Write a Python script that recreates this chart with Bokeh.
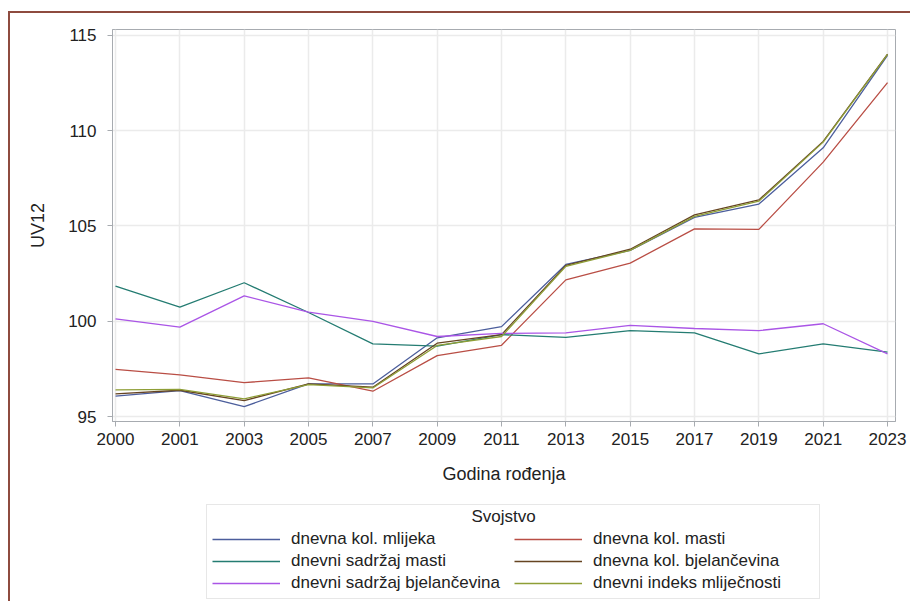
from bokeh.plotting import figure
from bokeh.layouts import column
from bokeh.models import Legend, LegendItem, Label, FixedTicker, Range1d
from bokeh.embed import file_html
from bokeh.resources import INLINE

years = ["2000", "2001", "2003", "2005", "2007", "2009", "2011",
         "2013", "2015", "2017", "2019", "2021", "2023"]

kol_mlijeka = [96.07, 96.36, 95.52, 96.71, 96.71, 99.13, 99.72,
               102.98, 103.72, 105.45, 106.15, 109.10, 113.95]
kol_masti = [97.47, 97.19, 96.78, 97.03, 96.33, 98.20, 98.74,
             102.17, 103.05, 104.85, 104.82, 108.35, 112.52]
sadrzaj_masti = [101.84, 100.74, 102.02, 100.46, 98.81, 98.70, 99.30,
                 99.15, 99.51, 99.39, 98.29, 98.81, 98.38]
kol_bjelancevina = [96.19, 96.38, 95.84, 96.71, 96.54, 98.85, 99.30,
                    102.93, 103.78, 105.58, 106.37, 109.44, 114.02]
sadrzaj_bjelancevina = [100.13, 99.69, 101.33, 100.48, 99.99, 99.20, 99.36,
                        99.39, 99.78, 99.62, 99.51, 99.87, 98.29]
indeks_mlijecnosti = [96.40, 96.43, 95.93, 96.68, 96.50, 98.73, 99.20,
                      102.88, 103.72, 105.50, 106.30, 109.40, 114.00]

series_names = ["dnevna kol. mlijeka", "dnevna kol. masti", "dnevni sadržaj masti",
                "dnevna kol. bjelančevina", "dnevni sadržaj bjelančevina",
                "dnevni indeks mliječnosti"]
series_values = [kol_mlijeka, kol_masti, sadrzaj_masti, kol_bjelancevina,
                 sadrzaj_bjelancevina, indeks_mlijecnosti]
colors = ["#4C5E9C", "#B94E45", "#247C72", "#664422", "#AA55E6", "#8E9E36"]

legend_title = "Svojstvo"
x_title = "Godina rođenja"
y_title = "UV12"
y_ticks = [95, 100, 105, 110, 115]

FONT = "Liberation Sans"
TXT = "#222222"
x_idx = list(range(len(years)))

# ---------------- main chart ----------------
p = figure(width=900, height=476, output_backend="svg", toolbar_location=None,
           x_range=Range1d(-0.047, len(years) - 1 + 0.124),
           y_range=Range1d(94.74, 115.31),
           min_border_left=102, min_border_top=16, min_border_right=15,
           min_border_bottom=68)

p.background_fill_color = "white"
p.border_fill_color = "white"
p.outline_line_color = "#A7ABB0"
p.outline_line_width = 1

for ax in (p.xaxis[0], p.yaxis[0]):
    ax.axis_line_color = "#A7ABB0"
    ax.major_tick_line_color = "#A7ABB0"
    ax.major_tick_out = 5
    ax.major_tick_in = 0
    ax.minor_tick_line_color = None
    ax.major_label_text_font = FONT
    ax.major_label_text_font_size = "17px"
    ax.major_label_text_color = TXT
    ax.axis_label_text_font = FONT
    ax.axis_label_text_font_size = "18px"
    ax.axis_label_text_font_style = "normal"
    ax.axis_label_text_color = TXT

p.xaxis.ticker = FixedTicker(ticks=x_idx)
p.xaxis.major_label_overrides = {i: y for i, y in enumerate(years)}
p.xaxis.axis_label = x_title
p.xaxis.major_label_standoff = 6
p.xaxis.axis_label_standoff = 16

p.yaxis.ticker = FixedTicker(ticks=y_ticks)
p.yaxis.axis_label = y_title
p.yaxis.major_label_standoff = 11
p.yaxis.axis_label_standoff = 17

p.xgrid.grid_line_color = "#EBEBEB"
p.ygrid.grid_line_color = "#EBEBEB"
p.xgrid.grid_line_width = 1.5
p.ygrid.grid_line_width = 1.5

for vals, col in zip(series_values, colors):
    p.line(x_idx, vals, line_color=col, line_width=1.3)

# ---------------- legend panel ----------------
lg = figure(width=900, height=112, output_backend="svg", toolbar_location=None,
            x_range=Range1d(0, 1), y_range=Range1d(0, 1),
            min_border=0, x_axis_type=None, y_axis_type=None)
lg.outline_line_color = None
lg.grid.visible = False
lg.background_fill_color = "white"
lg.border_fill_color = "white"

items = []
for name, vals, col in zip(series_names, series_values, colors):
    # same series, outside this panel's view: only its legend swatch shows
    r = lg.line(x_idx, vals, line_color=col, line_width=1.3)
    items.append(LegendItem(label=name, renderers=[r]))

legend = Legend(items=items, orientation="horizontal", ncols=2,
                title=" ", title_text_font_size="14px", title_standoff=3,
                label_text_font=FONT, label_text_font_size="17px",
                label_text_color=TXT,
                glyph_width=68, glyph_height=18, label_height=18,
                label_width=221, label_standoff=11, spacing=2,
                padding=5, margin=0,
                border_line_color="#CFCFCF", border_line_width=1.5,
                background_fill_alpha=0,
                location=(94, 2))
lg.add_layout(legend, "center")

title_lbl = Label(x=391, y=85, x_units="screen", y_units="screen",
                  text=legend_title, text_align="center", text_baseline="middle",
                  text_font=FONT, text_font_size="17px", text_color=TXT)
lg.add_layout(title_lbl)

layout = column(p, lg, spacing=0,
                styles={"border-left": "2px solid #8E4B3F", "border-top": "2px solid #8E4B3F",
                        "margin-top": "11px", "margin-left": "8px"})

open("out.html", "w").write(file_html(layout, INLINE))
